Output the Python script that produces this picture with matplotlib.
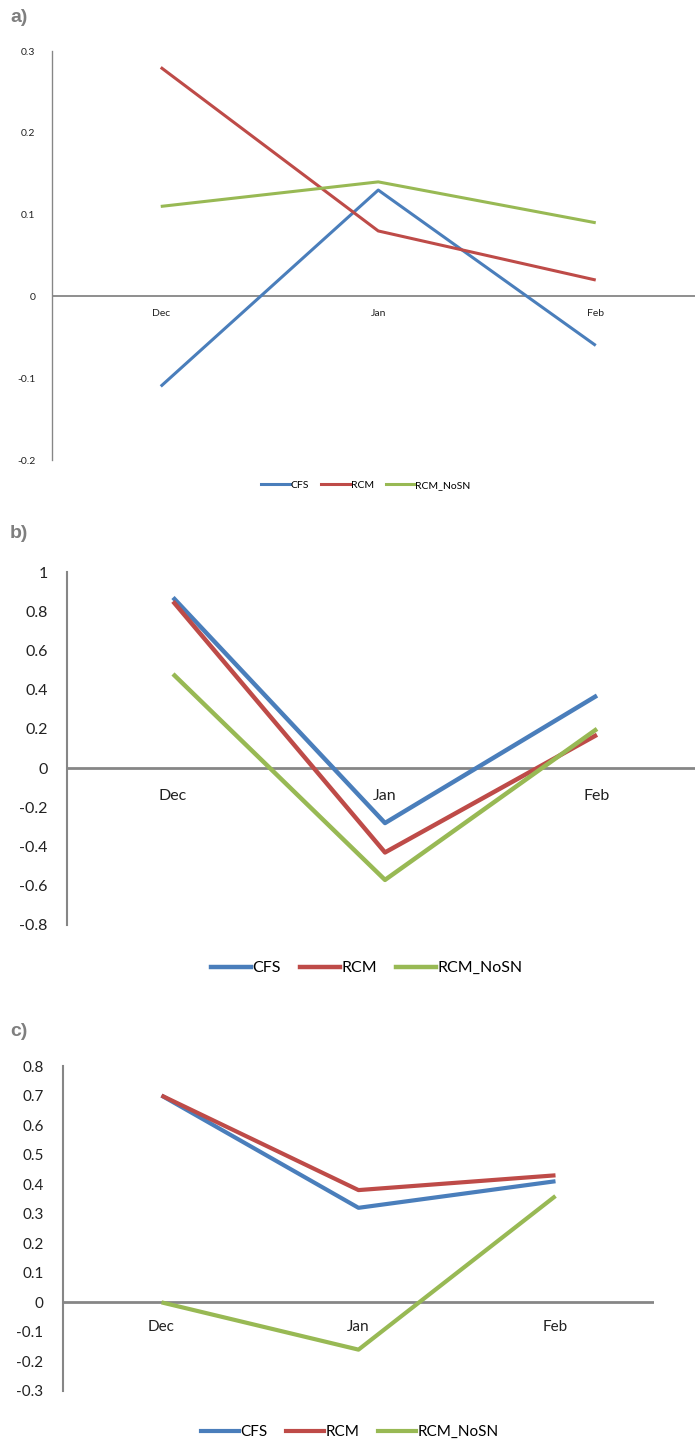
import matplotlib

matplotlib.use("Agg")
import matplotlib.pyplot as plt
from matplotlib.lines import Line2D

plt.rcParams["font.family"] = ["Lato", "DejaVu Sans"]

months = ["Dec", "Jan", "Feb"]
series_names = ["CFS", "RCM", "RCM_NoSN"]
colors = ["#4a7ebb", "#be4b48", "#98b954"]

# panel a
a_cfs = [-0.11, 0.13, -0.06]
a_rcm = [0.28, 0.08, 0.02]
a_nosn = [0.11, 0.14, 0.09]
a_ticks = [-0.2, -0.1, 0, 0.1, 0.2, 0.3]
a_ticklabels = ["-0.2", "-0.1", "0", "0.1", "0.2", "0.3"]

# panel b
b_cfs = [0.87, -0.28, 0.37]
b_rcm = [0.85, -0.43, 0.17]
b_nosn = [0.48, -0.57, 0.20]
b_ticks = [-0.8, -0.6, -0.4, -0.2, 0, 0.2, 0.4, 0.6, 0.8, 1.0]
b_ticklabels = ["-0.8", "-0.6", "-0.4", "-0.2", "0", "0.2", "0.4", "0.6", "0.8", "1"]

# panel c
c_cfs = [0.70, 0.32, 0.41]
c_rcm = [0.70, 0.38, 0.43]
c_nosn = [0.00, -0.16, 0.36]
c_ticks = [-0.3, -0.2, -0.1, 0, 0.1, 0.2, 0.3, 0.4, 0.5, 0.6, 0.7, 0.8]
c_ticklabels = ["-0.3", "-0.2", "-0.1", "0", "0.1", "0.2", "0.3", "0.4", "0.5", "0.6", "0.7", "0.8"]

W, H = 695, 1441
fig = plt.figure(figsize=(W / 100, H / 100), dpi=100)


def px_axes(x0, x1, y_top, y_bot):
    return fig.add_axes([x0 / W, 1 - y_bot / H, (x1 - x0) / W, (y_bot - y_top) / H])


def panel(box, data, ticks, ticklabels, fs, lw, zlw, label_off, leg_y, leg_x, leg_fs,
          handlelen, tick_pad, letter, letter_y):
    ax = px_axes(*box)
    x = range(len(months))
    for vals, c in zip(data, colors):
        ax.plot(x, vals, color=c, lw=lw, solid_capstyle="butt", zorder=3)
    ax.axhline(0, color="#868686", lw=zlw, zorder=2)
    ax.set_xlim(-0.5, len(months) - 0.5)
    ax.set_ylim(ticks[0], ticks[-1])
    ax.set_yticks(ticks)
    ax.set_yticklabels(ticklabels, fontsize=fs, color="#222222")
    ax.tick_params(axis="y", length=0, pad=tick_pad)
    ax.set_xticks([])
    for s in ["top", "right", "bottom"]:
        ax.spines[s].set_visible(False)
    ax.spines["left"].set_color("#868686")
    ax.spines["left"].set_linewidth(zlw * 0.75)
    for i, m in enumerate(months):
        ax.annotate(m, (i, 0), xytext=(0, -label_off), textcoords="offset pixels",
                    ha="center", va="center", fontsize=fs, color="#222222")
    handles = [Line2D([], [], color=c, lw=lw) for c in colors]
    fig.legend(handles, series_names, loc="center", bbox_to_anchor=(leg_x / W, 1 - leg_y / H),
               ncol=3, frameon=False, fontsize=leg_fs, handlelength=handlelen,
               handletextpad=0.1, columnspacing=1.2)
    fig.text(10 / W, 1 - letter_y / H, letter, fontsize=14, fontweight="bold",
             color="#7f7f7f", ha="left", va="center", family="Liberation Sans")
    return ax


panel((52, 704.5, 51, 460), [a_cfs, a_rcm, a_nosn], a_ticks, a_ticklabels,
      7.5, 2.2, 1.3, 17, 485, 366, 7.5, 2.7, 12, "a)", 18)
panel((67, 703, 572, 925), [b_cfs, b_rcm, b_nosn], b_ticks, b_ticklabels,
      11.5, 3.2, 2.0, 28, 968, 367, 11.5, 2.5, 14, "b)", 534)
panel((63, 654, 1066, 1391), [c_cfs, c_rcm, c_nosn], c_ticks, c_ticklabels,
      11, 3.0, 2.0, 25, 1432, 350, 11, 2.5, 14, "c)", 1032)

fig.savefig("out.png", dpi=100)
